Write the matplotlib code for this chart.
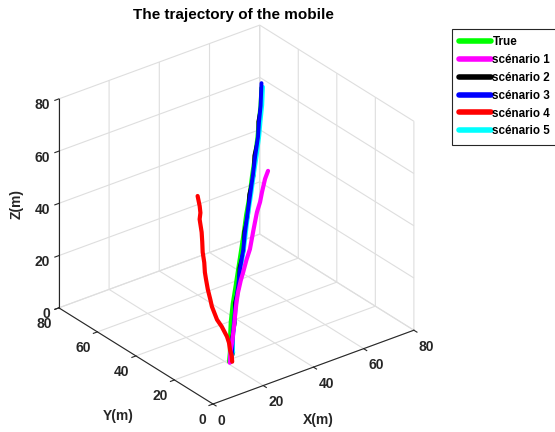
import numpy as np
import matplotlib
matplotlib.use("Agg")
import matplotlib.pyplot as plt
from mpl_toolkits.mplot3d import proj3d

plt.rcParams['font.family'] = ['Liberation Sans', 'DejaVu Sans']

# ---------------- data ----------------
true_x = [12.6, 14.4, 17.4, 20.5, 24.3, 27.8, 31.5, 35.3, 39.0, 42.2, 46.0, 49.1, 52.5, 55.4, 57.7, 60.2, 62.6]
true_y = [8.1, 10.0, 13.8, 17.5, 21.4, 24.5, 27.9, 31.4, 34.8, 37.8, 40.9, 43.7, 46.6, 49.1, 51.4, 53.8, 56.4]
true_z = [8, 10, 13, 16, 20, 24, 28, 32, 36, 40, 45, 50, 55, 60, 64, 68, 73]

s1_x = [12.4, 14.5, 16.8, 19.9, 22.8, 25.6, 28.0, 30.3, 32.1, 34.7, 36.8, 39.2, 40.4, 42.0, 43.6, 45.0, 47.9, 48.7]
s1_y = [7.4, 9.9, 12.0, 15.1, 18.3, 21.2, 23.5, 25.1, 26.2, 27.9, 28.8, 30.3, 30.9, 31.9, 32.4, 33.2, 35.4, 34.9]
s1_z = [8, 10, 12, 15, 17, 20, 22, 25, 27, 30, 33, 38, 41, 44, 47, 50, 53, 56]

s2_x = [13.1, 15.3, 18.0, 21.5, 25.0, 28.6, 32.0, 36.0, 39.3, 42.8, 46.0, 49.6, 52.4, 55.8, 57.6, 60.5, 62.8]
s2_y = [8.0, 9.4, 13.5, 16.6, 21.2, 23.8, 28.0, 30.9, 35.0, 37.5, 41.2, 43.5, 46.9, 49.0, 51.6, 53.8, 56.6]
s2_z = [8, 10, 13, 16, 20, 24, 28, 32, 36, 40, 45, 50, 55, 60, 64, 68, 73]

s3_x = [12.9, 15.0, 17.8, 21.4, 24.8, 28.6, 31.8, 35.9, 39.2, 42.6, 46.0, 49.5, 52.4, 55.6, 57.6, 60.4, 62.9]
s3_y = [7.7, 9.7, 13.0, 17.0, 20.6, 24.2, 27.4, 31.1, 34.5, 37.7, 40.7, 43.8, 46.4, 49.1, 51.2, 54.0, 56.8]
s3_z = [8, 10, 13, 16, 20, 24, 28, 32, 36, 40, 45, 50, 55, 60, 64, 68, 74.5]

s4_x = [13.4, 14.6, 15.6, 17.1, 18.0, 18.6, 18.1, 17.9, 18.2, 18.5, 19.0, 19.4, 20.0, 20.6, 21.5, 22.1, 22.6, 23.3, 23.7, 24.1]
s4_y = [7.5, 9.3, 11.5, 14.0, 16.2, 19.7, 21.5, 23.9, 25.1, 26.8, 28.4, 29.5, 30.6, 32.2, 33.6, 34.7, 36.4, 36.9, 37.8, 39.4]
s4_z = [8, 9, 10, 11, 12, 14, 16, 20, 22, 25, 28, 30, 33, 36, 39, 42, 46, 48, 50, 53]

s5_x = [12.8, 15.4, 17.9, 21.9, 24.9, 29.2, 32.0, 36.6, 39.6, 43.4, 46.4, 50.2, 52.9, 56.4, 58.2, 61.1, 63.4]
s5_y = [7.6, 9.6, 12.9, 17.3, 20.4, 24.6, 27.2, 31.5, 34.4, 38.2, 40.6, 44.1, 46.2, 49.4, 51.1, 54.0, 56.6]
s5_z = [8, 10, 13, 16, 20, 24, 28, 32, 36, 40, 45, 50, 55, 60, 64, 68, 73]

labels = ['True', 'scénario 1', 'scénario 2', 'scénario 3', 'scénario 4', 'scénario 5']
colors = ['#00ff00', '#ff00ff', '#000000', '#0000ff', '#ff0000', '#00ffff']
ticks = [0, 20, 40, 60, 80]

# ---------------- figure ----------------
W, H = 555, 432
fig = plt.figure(figsize=(W / 100, H / 100), dpi=100)
ax = fig.add_axes([0.1, 0.1, 0.6, 0.6], projection='3d', proj_type='ortho')
ax.view_init(elev=28.6, azim=-127.5)
ax.set_box_aspect((1, 1, 0.94))
ax.computed_zorder = False

series = [(true_x, true_y, true_z), (s1_x, s1_y, s1_z), (s2_x, s2_y, s2_z),
          (s3_x, s3_y, s3_z), (s4_x, s4_y, s4_z), (s5_x, s5_y, s5_z)]
zords = [2, 6, 3, 5, 6, 4]
lws = [3, 3, 2.6, 2.8, 3, 2.6]
handles = []
for (xs, ys, zs), c, lab, zo, lw in zip(series, colors, labels, zords, lws):
    h, = ax.plot(xs, ys, zs, color=c, lw=lw, label=lab, solid_capstyle='round',
                 solid_joinstyle='round', zorder=zo)
    handles.append(h)

ax.set_xlim(0, 80)
ax.set_ylim(0, 80)
ax.set_zlim(0, 80)
ax.set_xticks(ticks)
ax.set_yticks(ticks)
ax.set_zticks(ticks)

gridc = '#dedede'
for a in (ax.xaxis, ax.yaxis, ax.zaxis):
    a.set_pane_color((1, 1, 1, 0))
    a.pane.set_edgecolor(gridc)
    a._axinfo['grid'].update(color=gridc, linewidth=0.8)
    a._axinfo['tick'].update(inward_factor=0.25, outward_factor=0.0)
    a.line.set_color('#262626')
    a.line.set_linewidth(0.8)
ax.xaxis.set_tick_params(pad=-3)
ax.yaxis.set_tick_params(pad=-3)
ax.zaxis.set_tick_params(pad=-4)
ax.tick_params(labelsize=10, colors='#262626')
for lab in ax.get_xticklabels() + ax.get_yticklabels() + ax.get_zticklabels():
    lab.set_fontweight('bold')
for lab in ax.get_xticklabels():
    lab.set_ha('left')
for lab in ax.get_yticklabels():
    lab.set_ha('right')
for lab in ax.get_zticklabels():
    lab.set_ha('right')

# ---- place the axes box so the cube corners land where the reference has them
fig.canvas.draw()
def disp(p):
    X, Y, _ = proj3d.proj_transform(p[0], p[1], p[2], ax.get_proj())
    return np.array(ax.transData.transform((X, Y)))
O = disp((0, 0, 0)); L = disp((0, 80, 0)); R = disp((80, 0, 0))
pos = ax.get_position()
cx = (pos.x0 + pos.x1) / 2 * W
cy = (pos.y0 + pos.y1) / 2 * H
size = pos.width * W
k = (413 - 58) / (R[0] - L[0])
newsize = size * k
tgtO = np.array([213, H - 404])
newc = tgtO - (O - np.array([cx, cy])) * k
ax.set_position([(newc[0] - newsize / 2) / W, (newc[1] - newsize / 2) / H,
                 newsize / W, newsize / H])

lab_kw = dict(fontsize=10, fontweight='bold', color='#262626', ha='center', va='center')
fig.text(318 / W, 1 - 420 / H, 'X(m)', **lab_kw)
fig.text(118 / W, 1 - 416 / H, 'Y(m)', **lab_kw)
fig.text(17 / W, 1 - 204 / H, 'Z(m)', rotation=90, **lab_kw)

fig.text(233 / W, 1 - 15 / H, 'The trajectory of the mobile', ha='center', va='center',
         fontsize=11, fontweight='bold')

leg = fig.legend(handles, labels, loc='upper left', bbox_to_anchor=(452 / W, 1 - 29 / H),
                 bbox_transform=fig.transFigure, borderaxespad=0, frameon=True,
                 fancybox=False, edgecolor='#262626', framealpha=1,
                 prop={'weight': 'bold', 'size': 8.4}, handlelength=2.7,
                 handletextpad=0.15, labelspacing=0.5, borderpad=0.62)
leg.get_frame().set_linewidth(0.8)
for l in leg.get_lines():
    l.set_linewidth(4)

fig.savefig('out.png', dpi=100)
